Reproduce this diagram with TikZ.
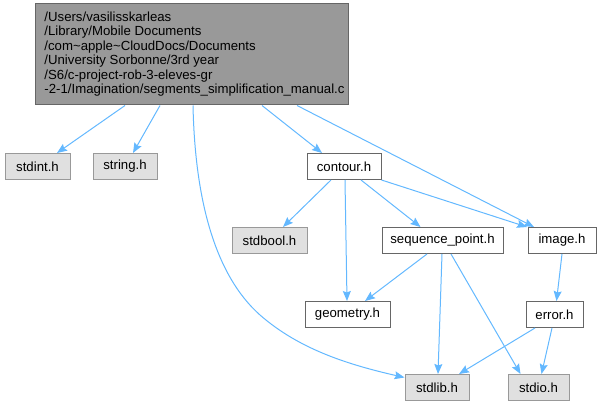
\documentclass[tikz,border=0pt]{standalone}
\usepackage{fontspec}
\setmainfont{Liberation Sans}
\usetikzlibrary{arrows.meta}
\definecolor{edgec}{HTML}{63B8FF}
\definecolor{sysfill}{HTML}{E0E0E0}
\definecolor{sysdraw}{HTML}{999999}
\definecolor{rootfill}{HTML}{999999}
\definecolor{localdraw}{HTML}{666666}
\begin{document}
\begin{tikzpicture}[x=1pt,y=-1pt,
  nodebox/.style={rectangle, line width=1pt, minimum height=26pt, inner sep=0pt,
    font=\fontsize{13.2}{14.5}\selectfont, text=black},
  sysbox/.style={nodebox, fill=sysfill, draw=sysdraw},
  localbox/.style={nodebox, fill=white, draw=localdraw},
  rootbox/.style={nodebox, fill=rootfill, draw=localdraw, align=left},
  dep/.style={draw=edgec, line width=1pt, -{Stealth[length=10pt,width=8pt,inset=1.5pt]}}]
\useasboundingbox (0,0) rectangle (602,406);

\node[rootbox, minimum width=313pt, minimum height=101pt] (top) at (191.5,54.5)
  {\hspace*{6pt}\begin{tabular}{@{}l@{}}/Users/vasilisskarleas\\/Library/Mobile Documents\\/com\textasciitilde apple\textasciitilde CloudDocs/Documents\\/University Sorbonne/3rd year\\/S6/c-project-rob-3-eleves-gr\\-2-1/Imagination/segments\_simplification\_manual.c\end{tabular}};

\node[sysbox, minimum width=65pt] (stdint) at (37.5,166.5) {stdint.h};
\node[sysbox, minimum width=64pt] (string) at (125,166.5) {string.h};
\node[localbox, minimum width=74pt] (contour) at (344,166.5) {contour.h};
\node[sysbox, minimum width=75pt] (stdbool) at (269.5,240.5) {stdbool.h};
\node[localbox, minimum width=121pt] (seq) at (442.5,240.5) {sequence\_point.h};
\node[localbox, minimum width=68pt] (image) at (562,240.5) {image.h};
\node[localbox, minimum width=85pt] (geometry) at (347.5,314.5) {geometry.h};
\node[localbox, minimum width=57pt] (error) at (554.5,314.5) {error.h};
\node[sysbox, minimum width=64pt] (stdlib) at (437,387.5) {stdlib.h};
\node[sysbox, minimum width=61pt] (stdio) at (538.5,387.5) {stdio.h};

\draw[dep] ([xshift=-66.5pt]top.south) -- ([xshift=19.5pt]stdint.north);
\draw[dep] ([xshift=-31.5pt]top.south) -- ([xshift=8pt]string.north);
\draw[dep] ([xshift=1.5pt]top.south) .. controls (195,200) and (215,275) .. (260,315)
  .. controls (300,350) and (350,365) .. ([yshift=10pt]stdlib.west);
\draw[dep] ([xshift=70.5pt]top.south) -- ([xshift=-22pt]contour.north);
\draw[dep] ([xshift=105.5pt]top.south) -- ([xshift=-28pt]image.north);

\draw[dep] ([xshift=-13pt]contour.south) -- ([xshift=13.5pt]stdbool.north);
\draw[dep] ([xshift=1pt]contour.south) -- ([xshift=-0.5pt]geometry.north);
\draw[dep] ([xshift=17pt]contour.south) -- ([xshift=-22pt]seq.north);
\draw[dep] (contour.south east) -- ([xshift=-35pt]image.north);

\draw[dep] ([xshift=-15.5pt]seq.south) -- ([xshift=17.5pt]geometry.north);
\draw[dep] ([xshift=-0.5pt]seq.south) -- ([xshift=1pt]stdlib.north);
\draw[dep] ([xshift=8.5pt]seq.south) -- ([xshift=-18pt]stdio.north);

\draw[dep] (image.south) -- ([xshift=2pt]error.north);
\draw[dep] ([xshift=-19.5pt]error.south) -- ([xshift=22pt]stdlib.north);
\draw[dep] ([xshift=-2.5pt]error.south) -- ([xshift=3pt]stdio.north);
\end{tikzpicture}
\end{document}
